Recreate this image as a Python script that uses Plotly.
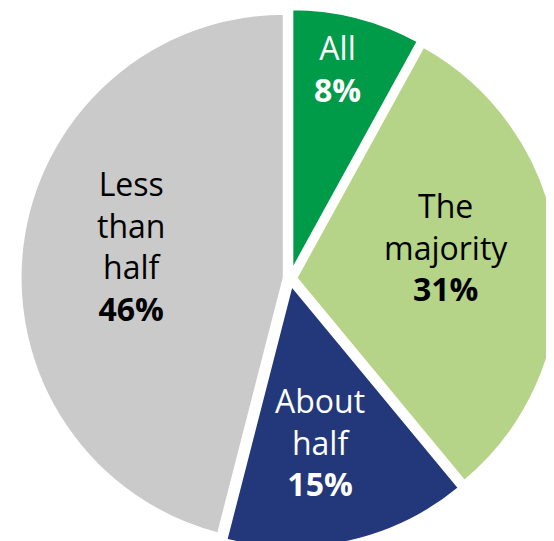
import plotly.graph_objects as go

# data
labels = ["All", "The<br>majority", "About<br>half", "Less<br>than<br>half"]
values = [8, 31, 15, 46]
colors = ["#009B48", "#B5D488", "#22387A", "#CACACA"]
text_colors = ["white", "black", "white", "black"]

# label placement (paper coords), one per slice
label_x = [329 / 554, 438 / 554, 312 / 554, 123 / 554]
label_y = [1 - 61 / 541, 1 - 239 / 541, 1 - 434 / 541, 1 - 238 / 541]

fig = go.Figure()
fig.add_trace(
    go.Pie(
        labels=labels,
        values=values,
        textinfo="none",
        marker=dict(colors=colors, line=dict(color="white", width=4)),
        pull=[0.02] * 4,
        sort=False,
        direction="clockwise",
        rotation=0,
        hoverinfo="skip",
        domain=dict(x=[0.0208, 0.9973], y=[0.0, 1.0]),
    )
)

# slice labels
for lab, v, c, x, y in zip(labels, values, text_colors, label_x, label_y):
    fig.add_annotation(
        x=x,
        y=y,
        xref="paper",
        yref="paper",
        text=f"{lab}<br><b>{v}%</b>",
        showarrow=False,
        xanchor="center",
        yanchor="middle",
        align="center",
        font=dict(family="Open Sans", size=32, color=c),
    )

fig.update_layout(
    width=554,
    height=541,
    margin=dict(l=0, r=0, t=0, b=0),
    showlegend=False,
    paper_bgcolor="white",
)

fig.write_html("out.html")
